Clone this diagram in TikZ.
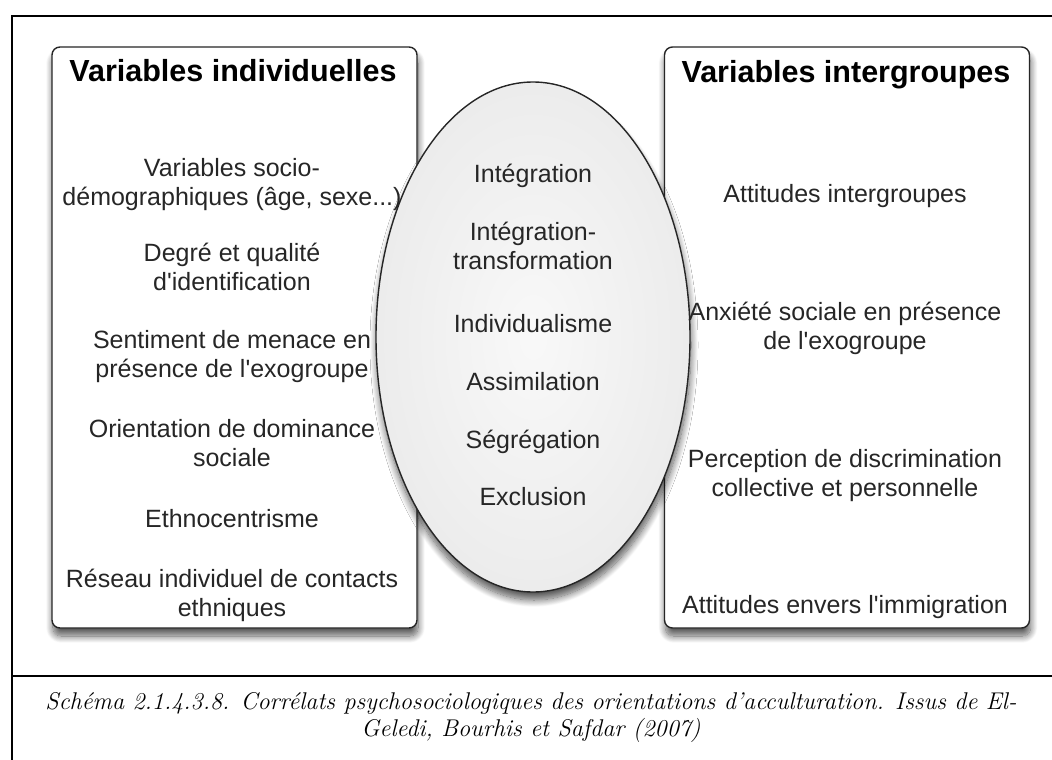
\documentclass[tikz,border=0pt]{standalone}
\usepackage{fontspec}
\newfontfamily\sansf{Liberation Sans}
\usetikzlibrary{shapes.geometric,shadows.blur}
\definecolor{txt}{HTML}{262626}
\newcommand\fst{\rule{0pt}{20bp}}
\tikzset{
  panel/.style={draw=black!85, line width=1.4bp, rounded corners=8bp, fill=white,
    minimum width=365bp, minimum height=581bp, inner sep=0pt,
    blur shadow={shadow xshift=1bp, shadow yshift=-8bp, shadow blur radius=7bp,
      shadow blur steps=12, shadow opacity=65}},
  oval/.style={ellipse, draw=black!85, line width=1.4bp, minimum width=314bp,
    minimum height=510bp, inner sep=0pt, inner color=gray!5, outer color=gray!15,
    blur shadow={shadow xshift=1bp, shadow yshift=-8bp, shadow blur radius=7bp,
      shadow blur steps=12, shadow opacity=65}},
  ptitle/.style={anchor=base, inner sep=0pt, text=black,
    font=\sansf\bfseries\fontsize{30.5bp}{34bp}\selectfont},
  item/.style={anchor=north, inner sep=0pt, align=center, text=txt,
    font=\sansf\fontsize{25bp}{29bp}\selectfont},
  frame/.style={line width=2bp, black},
  captext/.style={anchor=north, inner sep=0pt, align=center,
    font=\itshape\fontsize{24.2bp}{27bp}\selectfont}
}
\begin{document}
\begin{tikzpicture}[x=1bp,y=-1bp]
\useasboundingbox (0,0) rectangle (1052,760);
% frame
\coordinate (fbl) at (11.5,760);
\coordinate (ftl) at (11.5,16);
\coordinate (ftr) at (1052,16);
\coordinate (fdl) at (11.5,676);
\coordinate (fdr) at (1052,676);
\draw[frame] (fbl) -- (ftl) -- (ftr);
\draw[frame] (fdl) -- (fdr);
% panels
\node[panel] (left) at (234.5,337.5) {};
\node[panel] (right) at (847,337.5) {};
\node[oval] (mid) at (533,337) {};
% titles
\node[ptitle] (lt) at (233,82) {Variables individuelles};
\node[ptitle] (rt) at (846,83) {Variables intergroupes};
% left items
\node[item] (l1) at (232,156.5) {\fst Variables socio-\\démographiques (âge, sexe...)};
\node[item] (l2) at (232,241.5) {\fst Degré et qualité\\d'identification};
\node[item] (l3) at (232,328) {\fst Sentiment de menace en\\présence de l'exogroupe};
\node[item] (l4) at (232,417) {\fst Orientation de dominance\\sociale};
\node[item] (l5) at (232,507) {\fst Ethnocentrisme};
\node[item] (l6) at (232,567) {\fst Réseau individuel de contacts\\ethniques};
% middle items
\node[item] (m1) at (533,162) {\fst Intégration};
\node[item] (m2) at (533,220) {\fst Intégration-\\transformation};
\node[item] (m3) at (533,312) {\fst Individualisme};
\node[item] (m4) at (533,370) {\fst Assimilation};
\node[item] (m5) at (533,428) {\fst Ségrégation};
\node[item] (m6) at (533,485) {\fst Exclusion};
% right items
\node[item] (r1) at (845,182) {\fst Attitudes intergroupes};
\node[item] (r2) at (845,300) {\fst Anxiété sociale en présence\\de l'exogroupe};
\node[item] (r3) at (845,447) {\fst Perception de discrimination\\collective et personnelle};
\node[item] (r4) at (845,593) {\fst Attitudes envers l'immigration};
% caption
\node[captext] (cap) at (531,689) {\fst Schéma 2.1.4.3.8. Corrélats psychosociologiques des orientations d’acculturation. Issus de El-\\Geledi, Bourhis et Safdar (2007)};
\end{tikzpicture}
\end{document}
